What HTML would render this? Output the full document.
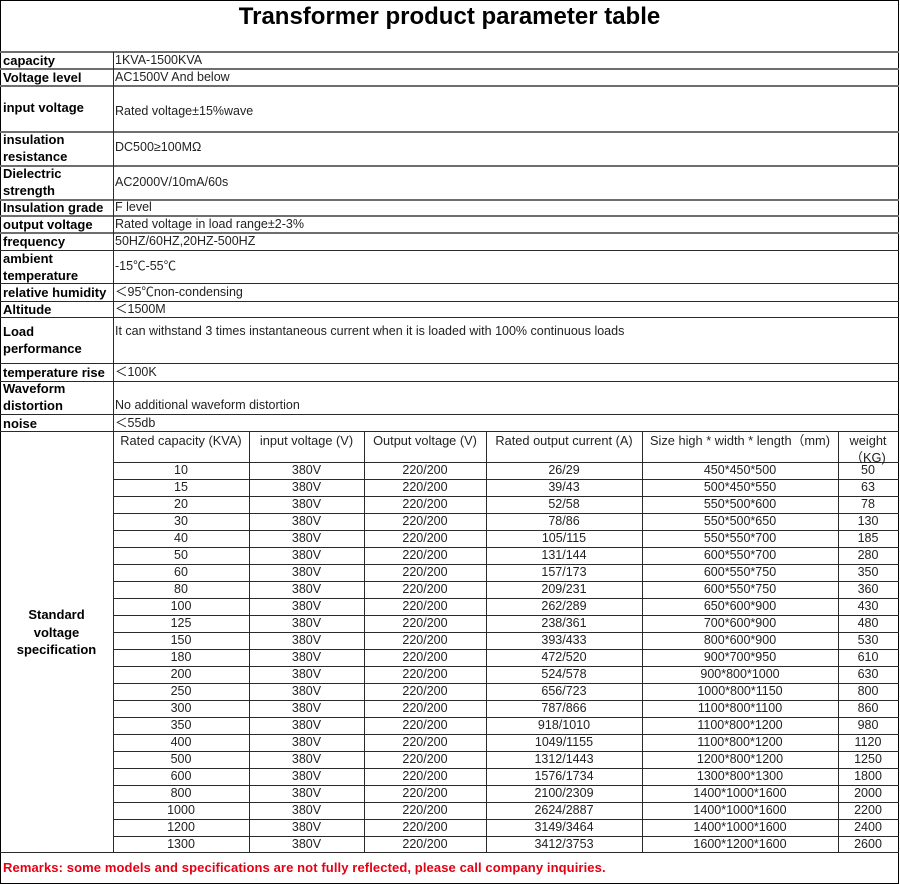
<!DOCTYPE html>
<html>
<head>
<meta charset="utf-8">
<style>
html,body{margin:0;padding:0;background:#fff;}
body{width:900px;height:884px;position:relative;overflow:hidden;font-family:"Liberation Sans","Noto Sans CJK SC",sans-serif;color:#111;}
.box{position:absolute;left:0;top:0;width:899px;height:884px;border:1px solid #000;box-sizing:border-box;}
.h{position:absolute;height:1px;background:#2a2a2a;}
.hg{position:absolute;height:2px;background:#6e6e6e;}
.v{position:absolute;width:1px;background:#2a2a2a;}
.title{position:absolute;left:0;top:5px;width:899px;text-align:center;font-weight:bold;font-size:24px;line-height:24px;color:#000;}
.l{position:absolute;left:3px;font-weight:bold;font-size:13px;line-height:17px;white-space:nowrap;color:#000;}
.s{position:absolute;left:115px;font-size:12.5px;line-height:17px;white-space:nowrap;color:#222;}
.r{position:absolute;left:0;width:900px;height:17px;font-size:12.5px;line-height:17px;color:#222;}
.r span,.hd span{position:absolute;top:0;text-align:center;white-space:nowrap;}
.hd{position:absolute;left:0;top:431px;width:900px;height:31px;font-size:12.8px;line-height:17px;color:#222;}
.c1{left:113px;width:136px}.c2{left:249px;width:115px}.c3{left:364px;width:122px}
.c4{left:486px;width:156px}.c5{left:642px;width:196px}.c6{left:838px;width:60px}
.std{position:absolute;left:0;top:606px;width:113px;text-align:center;font-weight:bold;font-size:13px;line-height:17.5px;color:#000;}
.rem{position:absolute;left:3px;top:859px;font-weight:bold;font-size:13px;letter-spacing:0.1px;line-height:17px;color:#e60012;white-space:nowrap;}
</style>
</head>
<body>
<div class="box"></div>
<div class="title">Transformer product parameter table</div>

<div class="hg" style="left:0;width:899px;top:51px"></div>
<div class="hg" style="left:0;width:899px;top:68px"></div>
<div class="hg" style="left:0;width:899px;top:85px"></div>
<div class="hg" style="left:0;width:899px;top:131px"></div>
<div class="hg" style="left:0;width:899px;top:165px"></div>
<div class="hg" style="left:0;width:899px;top:199px"></div>
<div class="hg" style="left:0;width:899px;top:215px"></div>
<div class="hg" style="left:0;width:899px;top:232px"></div>
<div class="h" style="left:0;width:899px;top:250px"></div>
<div class="h" style="left:0;width:899px;top:283px"></div>
<div class="h" style="left:0;width:899px;top:301px"></div>
<div class="h" style="left:0;width:899px;top:317px"></div>
<div class="h" style="left:0;width:899px;top:363px"></div>
<div class="h" style="left:0;width:899px;top:381px"></div>
<div class="h" style="left:0;width:899px;top:414px"></div>
<div class="h" style="left:0;width:899px;top:431px"></div>
<div class="h" style="left:113px;width:786px;top:462px"></div>
<div class="h" style="left:113px;width:786px;top:479px"></div>
<div class="h" style="left:113px;width:786px;top:496px"></div>
<div class="h" style="left:113px;width:786px;top:513px"></div>
<div class="h" style="left:113px;width:786px;top:530px"></div>
<div class="h" style="left:113px;width:786px;top:547px"></div>
<div class="h" style="left:113px;width:786px;top:564px"></div>
<div class="h" style="left:113px;width:786px;top:581px"></div>
<div class="h" style="left:113px;width:786px;top:598px"></div>
<div class="h" style="left:113px;width:786px;top:615px"></div>
<div class="h" style="left:113px;width:786px;top:632px"></div>
<div class="h" style="left:113px;width:786px;top:649px"></div>
<div class="h" style="left:113px;width:786px;top:666px"></div>
<div class="h" style="left:113px;width:786px;top:683px"></div>
<div class="h" style="left:113px;width:786px;top:700px"></div>
<div class="h" style="left:113px;width:786px;top:717px"></div>
<div class="h" style="left:113px;width:786px;top:734px"></div>
<div class="h" style="left:113px;width:786px;top:751px"></div>
<div class="h" style="left:113px;width:786px;top:768px"></div>
<div class="h" style="left:113px;width:786px;top:785px"></div>
<div class="h" style="left:113px;width:786px;top:802px"></div>
<div class="h" style="left:113px;width:786px;top:819px"></div>
<div class="h" style="left:113px;width:786px;top:836px"></div>
<div class="h" style="left:0;width:899px;top:852px"></div>

<div class="v" style="left:113px;top:52px;height:801px"></div>
<div class="v" style="left:249px;top:431px;height:422px"></div>
<div class="v" style="left:364px;top:431px;height:422px"></div>
<div class="v" style="left:486px;top:431px;height:422px"></div>
<div class="v" style="left:642px;top:431px;height:422px"></div>
<div class="v" style="left:838px;top:431px;height:422px"></div>

<div class="l" style="top:52px">capacity</div>
<div class="l" style="top:69px">Voltage level</div>
<div class="l" style="top:99px">input voltage</div>
<div class="l" style="top:131px">insulation<br>resistance</div>
<div class="l" style="top:165px">Dielectric<br>strength</div>
<div class="l" style="top:199px">Insulation grade</div>
<div class="l" style="top:216px">output voltage</div>
<div class="l" style="top:233px">frequency</div>
<div class="l" style="top:250px">ambient<br>temperature</div>
<div class="l" style="top:284px">relative humidity</div>
<div class="l" style="top:301px">Altitude</div>
<div class="l" style="top:323px">Load<br>performance</div>
<div class="l" style="top:364px">temperature rise</div>
<div class="l" style="top:380px">Waveform<br>distortion</div>
<div class="l" style="top:415px">noise</div>

<div class="s" style="top:52px">1KVA-1500KVA</div>
<div class="s" style="top:69px">AC1500V And below</div>
<div class="s" style="top:103px">Rated voltage±15%wave</div>
<div class="s" style="top:139px">DC500≥100MΩ</div>
<div class="s" style="top:174px">AC2000V/10mA/60s</div>
<div class="s" style="top:199px">F level</div>
<div class="s" style="top:216px">Rated voltage in load range±2-3%</div>
<div class="s" style="top:233px">50HZ/60HZ,20HZ-500HZ</div>
<div class="s" style="top:258px">-15℃-55℃</div>
<div class="s" style="top:284px">＜95℃non-condensing</div>
<div class="s" style="top:301px">＜1500M</div>
<div class="s" style="top:323px">It can withstand 3 times instantaneous current when it is loaded with 100% continuous loads</div>
<div class="s" style="top:364px">＜100K</div>
<div class="s" style="top:397px">No additional waveform distortion</div>
<div class="s" style="top:415px">＜55db</div>

<div class="std">Standard<br>voltage<br>specification</div>

<div class="hd">
<span class="c1" style="top:1px">Rated capacity (KVA)</span>
<span class="c2" style="top:1px">input voltage (V)</span>
<span class="c3" style="top:1px">Output voltage (V)</span>
<span class="c4" style="top:1px">Rated output current (A)</span>
<span class="c5" style="top:1px">Size high * width * length（mm)</span>
<span class="c6" style="top:1px">weight<br>（KG)</span>
</div>

<div class="r" style="top:462px"><span class="c1">10</span><span class="c2">380V</span><span class="c3">220/200</span><span class="c4">26/29</span><span class="c5">450*450*500</span><span class="c6">50</span></div>
<div class="r" style="top:479px"><span class="c1">15</span><span class="c2">380V</span><span class="c3">220/200</span><span class="c4">39/43</span><span class="c5">500*450*550</span><span class="c6">63</span></div>
<div class="r" style="top:496px"><span class="c1">20</span><span class="c2">380V</span><span class="c3">220/200</span><span class="c4">52/58</span><span class="c5">550*500*600</span><span class="c6">78</span></div>
<div class="r" style="top:513px"><span class="c1">30</span><span class="c2">380V</span><span class="c3">220/200</span><span class="c4">78/86</span><span class="c5">550*500*650</span><span class="c6">130</span></div>
<div class="r" style="top:530px"><span class="c1">40</span><span class="c2">380V</span><span class="c3">220/200</span><span class="c4">105/115</span><span class="c5">550*550*700</span><span class="c6">185</span></div>
<div class="r" style="top:547px"><span class="c1">50</span><span class="c2">380V</span><span class="c3">220/200</span><span class="c4">131/144</span><span class="c5">600*550*700</span><span class="c6">280</span></div>
<div class="r" style="top:564px"><span class="c1">60</span><span class="c2">380V</span><span class="c3">220/200</span><span class="c4">157/173</span><span class="c5">600*550*750</span><span class="c6">350</span></div>
<div class="r" style="top:581px"><span class="c1">80</span><span class="c2">380V</span><span class="c3">220/200</span><span class="c4">209/231</span><span class="c5">600*550*750</span><span class="c6">360</span></div>
<div class="r" style="top:598px"><span class="c1">100</span><span class="c2">380V</span><span class="c3">220/200</span><span class="c4">262/289</span><span class="c5">650*600*900</span><span class="c6">430</span></div>
<div class="r" style="top:615px"><span class="c1">125</span><span class="c2">380V</span><span class="c3">220/200</span><span class="c4">238/361</span><span class="c5">700*600*900</span><span class="c6">480</span></div>
<div class="r" style="top:632px"><span class="c1">150</span><span class="c2">380V</span><span class="c3">220/200</span><span class="c4">393/433</span><span class="c5">800*600*900</span><span class="c6">530</span></div>
<div class="r" style="top:649px"><span class="c1">180</span><span class="c2">380V</span><span class="c3">220/200</span><span class="c4">472/520</span><span class="c5">900*700*950</span><span class="c6">610</span></div>
<div class="r" style="top:666px"><span class="c1">200</span><span class="c2">380V</span><span class="c3">220/200</span><span class="c4">524/578</span><span class="c5">900*800*1000</span><span class="c6">630</span></div>
<div class="r" style="top:683px"><span class="c1">250</span><span class="c2">380V</span><span class="c3">220/200</span><span class="c4">656/723</span><span class="c5">1000*800*1150</span><span class="c6">800</span></div>
<div class="r" style="top:700px"><span class="c1">300</span><span class="c2">380V</span><span class="c3">220/200</span><span class="c4">787/866</span><span class="c5">1100*800*1100</span><span class="c6">860</span></div>
<div class="r" style="top:717px"><span class="c1">350</span><span class="c2">380V</span><span class="c3">220/200</span><span class="c4">918/1010</span><span class="c5">1100*800*1200</span><span class="c6">980</span></div>
<div class="r" style="top:734px"><span class="c1">400</span><span class="c2">380V</span><span class="c3">220/200</span><span class="c4">1049/1155</span><span class="c5">1100*800*1200</span><span class="c6">1120</span></div>
<div class="r" style="top:751px"><span class="c1">500</span><span class="c2">380V</span><span class="c3">220/200</span><span class="c4">1312/1443</span><span class="c5">1200*800*1200</span><span class="c6">1250</span></div>
<div class="r" style="top:768px"><span class="c1">600</span><span class="c2">380V</span><span class="c3">220/200</span><span class="c4">1576/1734</span><span class="c5">1300*800*1300</span><span class="c6">1800</span></div>
<div class="r" style="top:785px"><span class="c1">800</span><span class="c2">380V</span><span class="c3">220/200</span><span class="c4">2100/2309</span><span class="c5">1400*1000*1600</span><span class="c6">2000</span></div>
<div class="r" style="top:802px"><span class="c1">1000</span><span class="c2">380V</span><span class="c3">220/200</span><span class="c4">2624/2887</span><span class="c5">1400*1000*1600</span><span class="c6">2200</span></div>
<div class="r" style="top:819px"><span class="c1">1200</span><span class="c2">380V</span><span class="c3">220/200</span><span class="c4">3149/3464</span><span class="c5">1400*1000*1600</span><span class="c6">2400</span></div>
<div class="r" style="top:836px"><span class="c1">1300</span><span class="c2">380V</span><span class="c3">220/200</span><span class="c4">3412/3753</span><span class="c5">1600*1200*1600</span><span class="c6">2600</span></div>

<div class="rem">Remarks: some models and specifications are not fully reflected, please call company inquiries.</div>
</body>
</html>
